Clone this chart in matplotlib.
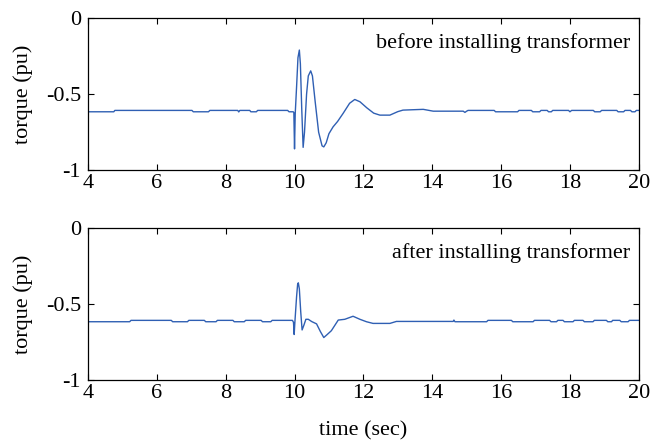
import matplotlib
matplotlib.use('Agg')
import matplotlib.pyplot as plt

plt.rcParams['font.family'] = 'Liberation Serif'
plt.rcParams['axes.unicode_minus'] = False

# torque before installing transformer
t_before = [4.00, 4.75, 4.78, 7.02, 7.06, 7.50, 7.54, 8.35, 8.38, 8.41, 8.70, 8.73, 8.89, 8.93,
            9.80, 9.84, 9.96, 9.98, 10.00, 10.02, 10.06, 10.10, 10.14, 10.17, 10.21, 10.25, 10.29,
            10.35, 10.40, 10.47, 10.52, 10.60, 10.70, 10.80, 10.85, 10.92, 11.00, 11.12, 11.25,
            11.41, 11.60, 11.75, 11.90, 12.10, 12.30, 12.48, 12.77, 13.00, 13.15, 13.74, 14.03,
            14.90, 14.95, 15.00, 15.04, 15.80, 15.84, 16.48, 16.52, 16.88, 16.92, 17.12, 17.16,
            17.34, 17.38, 17.46, 17.50, 17.96, 18.00, 18.05, 18.68, 18.72, 18.88, 18.92, 19.36,
            19.40, 19.56, 19.60, 19.76, 19.80, 19.89, 19.93, 20.00]
v_before = [-0.616, -0.616, -0.607, -0.607, -0.616, -0.616, -0.607, -0.607, -0.617, -0.607,
            -0.607, -0.616, -0.616, -0.607, -0.607, -0.616, -0.616, -0.62, -0.86, -0.63, -0.45,
            -0.26, -0.21, -0.30, -0.60, -0.85, -0.75, -0.50, -0.38, -0.347, -0.38, -0.55, -0.75,
            -0.84, -0.847, -0.82, -0.76, -0.715, -0.68, -0.627, -0.56, -0.535, -0.55, -0.59,
            -0.625, -0.638, -0.638, -0.615, -0.605, -0.60, -0.612, -0.612, -0.62, -0.612, -0.607,
            -0.607, -0.616, -0.616, -0.607, -0.607, -0.616, -0.616, -0.607, -0.607, -0.616,
            -0.616, -0.607, -0.607, -0.616, -0.607, -0.607, -0.616, -0.616, -0.607, -0.607,
            -0.616, -0.616, -0.607, -0.607, -0.616, -0.616, -0.607, -0.607]

# torque after installing transformer
t_after = [4.00, 5.21, 5.25, 6.42, 6.46, 6.89, 6.93, 7.38, 7.42, 7.72, 7.76, 8.21, 8.25, 8.54,
           8.58, 9.03, 9.07, 9.31, 9.35, 9.94, 9.97, 9.99, 10.01, 10.06, 10.09, 10.11, 10.14,
           10.18, 10.22, 10.27, 10.33, 10.40, 10.50, 10.64, 10.75, 10.85, 10.95, 11.07, 11.17,
           11.27, 11.46, 11.70, 11.90, 12.09, 12.28, 12.77, 12.96, 14.61, 14.63, 14.66, 15.58,
           15.62, 16.30, 16.34, 16.93, 16.97, 17.41, 17.45, 17.61, 17.65, 17.80, 17.84, 18.09,
           18.13, 18.38, 18.42, 18.67, 18.71, 19.06, 19.10, 19.21, 19.24, 19.45, 19.49, 19.69,
           19.73, 20.00]
v_after = [-0.616, -0.616, -0.607, -0.607, -0.616, -0.616, -0.607, -0.607, -0.616, -0.616,
           -0.607, -0.607, -0.616, -0.616, -0.607, -0.607, -0.616, -0.616, -0.607, -0.607,
           -0.62, -0.70, -0.62, -0.45, -0.37, -0.36, -0.40, -0.55, -0.67, -0.64, -0.60, -0.60,
           -0.615, -0.63, -0.68, -0.72, -0.70, -0.675, -0.64, -0.605, -0.60, -0.58, -0.60,
           -0.616, -0.627, -0.627, -0.614, -0.614, -0.605, -0.616, -0.616, -0.607, -0.607,
           -0.616, -0.616, -0.607, -0.607, -0.616, -0.616, -0.607, -0.607, -0.616, -0.616,
           -0.607, -0.607, -0.616, -0.616, -0.607, -0.607, -0.616, -0.616, -0.607, -0.607,
           -0.616, -0.616, -0.607, -0.607]

labels = ['before installing transformer', 'after installing transformer']
xticks = [4, 6, 8, 10, 12, 14, 16, 18, 20]
yticks = [-1, -0.5, 0]
ytick_labels = ['-1', '-0.5', '0']

fig = plt.figure(figsize=(6.64, 4.42), dpi=100)
ax1 = fig.add_axes([0.1325, 0.615, 0.8295, 0.344])
ax2 = fig.add_axes([0.1325, 0.140, 0.8295, 0.344])

for ax, t, v, lab in [(ax1, t_before, v_before, labels[0]), (ax2, t_after, v_after, labels[1])]:
    ax.plot(t, v, color='#2f5fb3', lw=1.0)
    ax.set_xlim(4, 20)
    ax.set_ylim(-1, 0)
    ax.set_xticks(xticks)
    ax.set_yticks(yticks)
    ax.set_yticklabels(ytick_labels)
    ax.tick_params(direction='in', top=True, right=True, labelsize=16, length=4, width=0.8)
    ax.tick_params(axis='x', pad=3)
    ax.tick_params(axis='y', pad=5)
    ax.set_ylabel('torque (pu)', fontsize=16, labelpad=9)
    ax.text(0.985, 0.835, lab, transform=ax.transAxes, ha='right', va='center', fontsize=16)
    for s in ax.spines.values():
        s.set_linewidth(0.9)

ax2.set_xlabel('time (sec)', fontsize=16, labelpad=13)

fig.savefig('out.png', dpi=100)
